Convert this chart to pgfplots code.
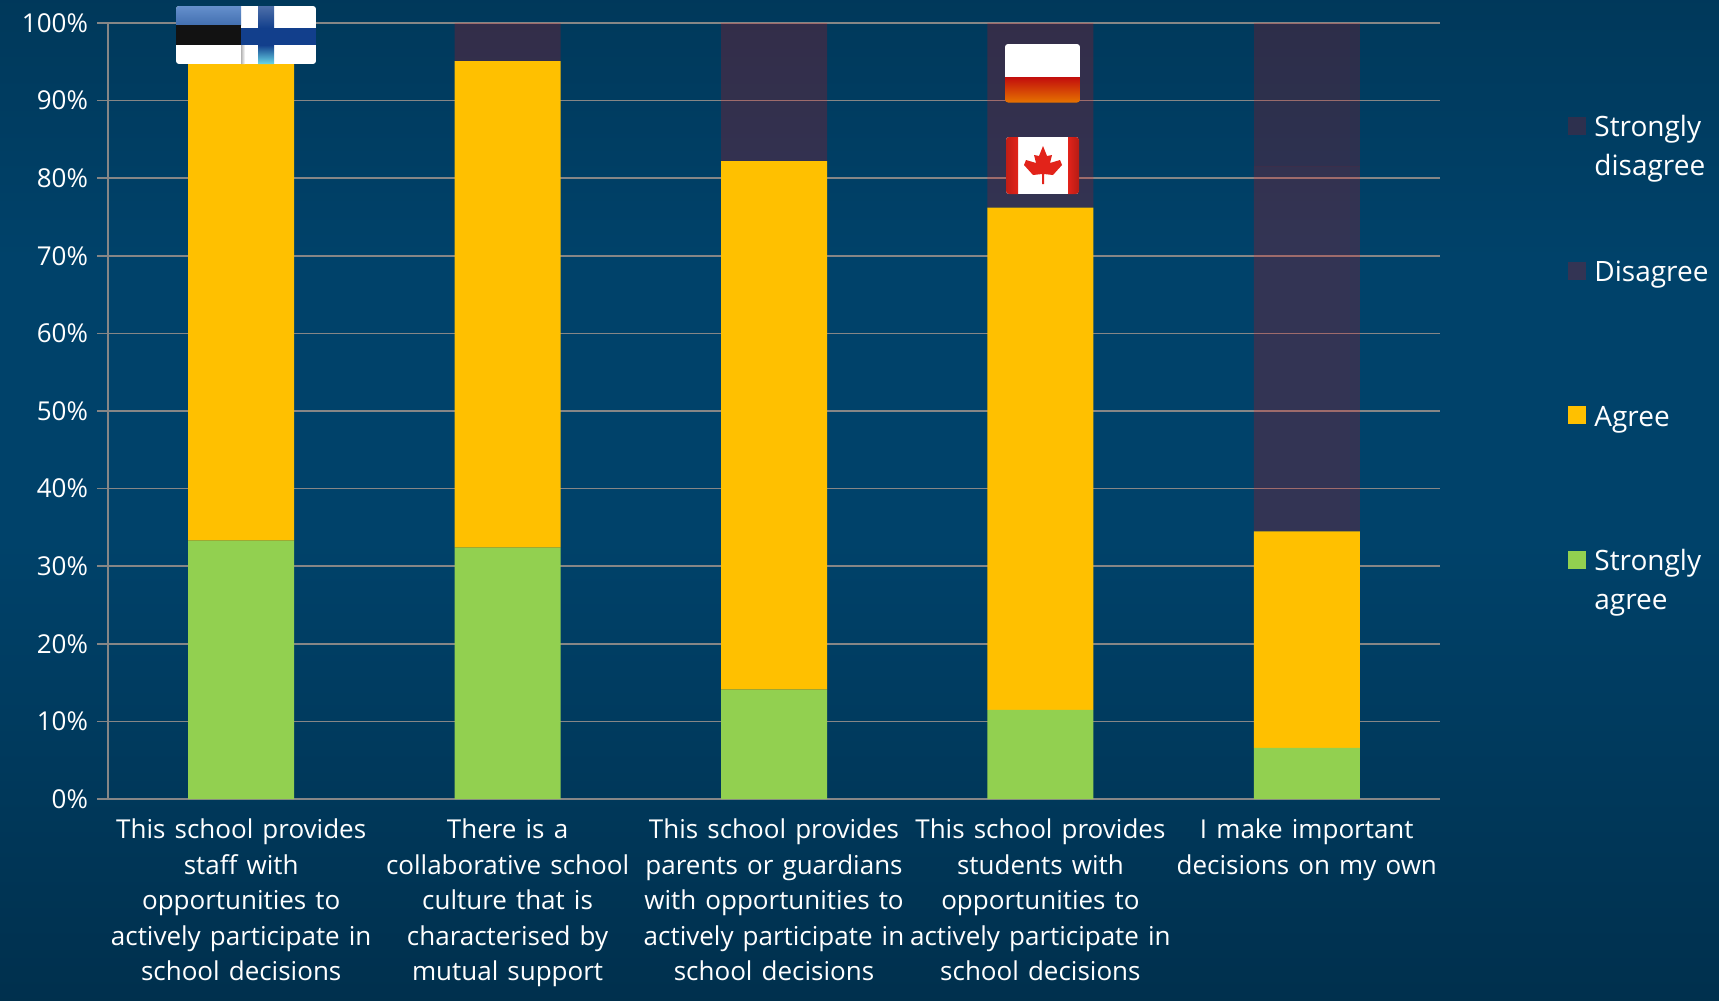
\documentclass[border=0pt]{standalone}
\usepackage{pgfplots}
\pgfplotsset{compat=1.18}
\usepackage{fontspec}
\setmainfont{Open Sans}
\newfontfamily\labelfont[WordSpace=1.35]{Open Sans}
\usetikzlibrary{shadings}

% one pixel of the slide is half a point
\tikzset{x=0.5pt,y=-0.5pt}

\definecolor{slidetop}{HTML}{00263D}
\definecolor{slidemid}{HTML}{00426A}
\definecolor{slidebot}{HTML}{001C2E}
\definecolor{gridgrey}{HTML}{868686}
\definecolor{sagree}{HTML}{92D050}
\definecolor{agree}{HTML}{FFC000}
\definecolor{flagblue}{HTML}{4A7CC4}
\definecolor{finblue}{HTML}{123F8C}
\definecolor{canred}{HTML}{E2231A}

\pgfdeclareverticalshading{slide}{100bp}{
  color(0bp)=(slidebot);
  color(48bp)=(slidemid);
  color(62bp)=(slidemid);
  color(100bp)=(slidetop)}

\begin{document}
\begin{tikzpicture}
\useasboundingbox (0,0) rectangle (1719,1001);
\shade[shading=slide] (0,0) rectangle (1719,1001);

\begin{axis}[
  at={(54pt,-399.5pt)}, anchor=south west,
  x=133.2pt, y=3.88pt,
  xmin=-0.5, xmax=4.5, ymin=0, ymax=100,
  ybar stacked, bar width=53pt,
  axis line style={gridgrey, line width=0.8pt},
  axis x line=bottom, axis y line=left,
  axis line style={-},
  tick style={gridgrey, line width=0.8pt},
  ytick={0,10,...,100},
  yticklabel={\pgfmathprintnumber{\tick}\%},
  /pgf/number format/assume math mode=true,
  ymajorgrids, grid style={gridgrey, line width=0.8pt},
  y tick label style={white, font=\labelfont\fontsize{13}{16}\selectfont, xshift=-1pt},
  xtick={0,1,2,3,4},
  xticklabels={
    This school provides\\staff with\\opportunities to\\actively participate in\\school decisions,
    There is a\\collaborative school\\culture that is\\characterised by\\mutual support,
    This school provides\\parents or guardians\\with opportunities to\\actively participate in\\school decisions,
    This school provides\\students with\\opportunities to\\actively participate in\\school decisions,
    I make important\\decisions on my own},
  x tick label style={white, font=\labelfont\fontsize{13}{17.75}\selectfont, align=center, anchor=north, yshift=-1pt},
  major x tick style={draw=none},
  extra x ticks={-0.5,0.5,1.5,2.5,3.5,4.5},
  extra x tick labels={},
  extra x tick style={major tick length=5pt, tick style={gridgrey, line width=0.8pt}, xmajorgrids=false},
  major tick length=5.5pt,
  tick align=outside,
  clip=false,
]
\addplot[fill=sagree, draw=none] coordinates {(0,33.3) (1,32.4) (2,14.1) (3,11.5) (4,6.6)};
\addplot[fill=agree, draw=none] coordinates {(0,61.4) (1,62.7) (2,68.1) (3,64.7) (4,27.9)};
\addplot[fill=red, fill opacity=0.2, draw=none] coordinates {(0,5.3) (1,4.9) (2,17.8) (3,23.8) (4,47.0)};
\addplot[fill=red!90!black, fill opacity=0.2, draw=none] coordinates {(0,0) (1,0) (2,0) (3,0) (4,18.5)};
\end{axis}

% Estonia and Finland
\begin{scope}
  \clip[rounded corners=1.5pt] (176,6) rectangle (316,64);
  \fill[white] (176,6) rectangle (316,64);
  \shade[top color=flagblue!85!white, bottom color=flagblue!90!black] (176,6) rectangle (241,25);
  \fill[black!93] (176,25) rectangle (241,45);
  \shade[top color=finblue!75!white, bottom color=finblue] (258,6) rectangle (274,28);
  \fill[finblue] (241,28) rectangle (316,45);
  \shade[top color=finblue, bottom color=finblue!35!cyan!60!white] (258,45) rectangle (274,64);
  \shade[left color=black!30, right color=white] (241,45) rectangle (245,64);
\end{scope}

% Poland
\begin{scope}
  \clip[rounded corners=1.5pt] (1005,44) rectangle (1080,102.5);
  \fill[white] (1005,44) rectangle (1080,77);
  \shade[top color=red!75!black!95, middle color=red!80!orange, bottom color=orange!90!black] (1005,77) rectangle (1080,102.5);
\end{scope}

% Canada
\begin{scope}
  \clip[rounded corners=1.5pt] (1006,137) rectangle (1079,194);
  \fill[white] (1006,137) rectangle (1079,194);
  \shade[left color=canred!85!black, right color=canred] (1006,137) rectangle (1018,194);
  \shade[left color=canred, right color=canred!80!black] (1068,137) rectangle (1079,194);
  \fill[canred] (1043,146) -- (1047,156) -- (1052,155) -- (1050,163) -- (1060,160) -- (1062,165)
    -- (1053,175) -- (1044,174) -- (1044,184) -- (1042,184) -- (1042,174) -- (1033,175)
    -- (1024,165) -- (1026,160) -- (1036,163) -- (1034,155) -- (1039,156) -- cycle;
\end{scope}

% key
\fill[red!90!black, opacity=0.2] (1568,117) rectangle (1586,135);
\fill[red, opacity=0.2] (1568,262) rectangle (1586,280);
\fill[agree] (1568,406) rectangle (1586,424);
\fill[sagree] (1568,551) rectangle (1586,569);
\begin{scope}[every node/.style={white, anchor=base west, inner sep=0pt, font=\fontsize{14}{19.5}\selectfont}]
  \node at (1594,136) {Strongly};
  \node at (1594,175) {disagree};
  \node at (1594,281) {Disagree};
  \node at (1594,426) {Agree};
  \node at (1594,570) {Strongly};
  \node at (1594,609) {agree};
\end{scope}
\end{tikzpicture}
\end{document}
